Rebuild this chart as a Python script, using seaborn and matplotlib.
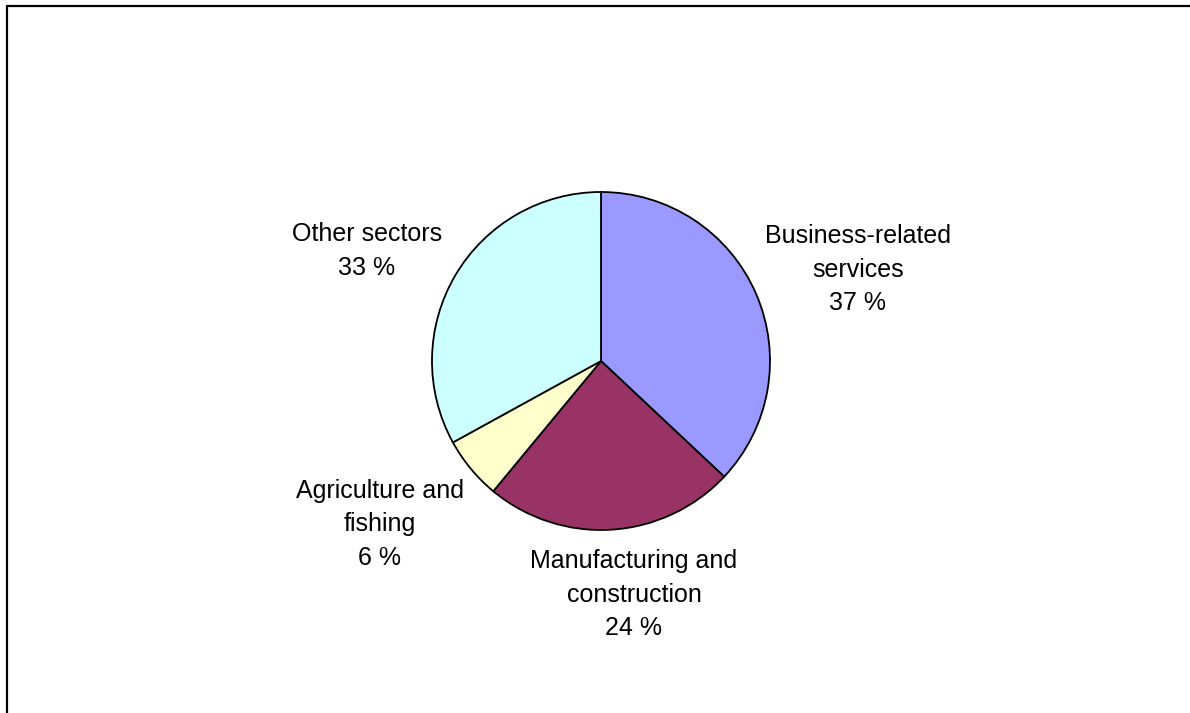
import matplotlib
matplotlib.use("Agg")
import matplotlib.pyplot as plt
from matplotlib.lines import Line2D
import seaborn as sns

# Share of enterprises by sector (%)
sectors = ["Business-related\nservices", "Manufacturing and\nconstruction",
           "Agriculture and\nfishing", "Other sectors"]
shares = [37, 24, 6, 33]
colors = ["#9999FF", "#993366", "#FFFFCC", "#CCFFFF"]

# Label anchor points (pixels from the figure's top-left), one per sector
label_xy = [(858, 224), (634, 549), (380, 479), (367, 222)]

sns.set_theme(style="white")
plt.rcParams["font.family"] = ["Liberation Sans", "DejaVu Sans"]

W, H, DPI = 1190, 713, 100
fig = plt.figure(figsize=(W / DPI, H / DPI), dpi=DPI)
fig.patch.set_facecolor("white")
ax = fig.add_axes([0, 0, 1, 1])

# Pie geometry in pixels
cx, cy, r = 601, 361, 169

ax.pie(shares, colors=colors, startangle=90, counterclock=False,
       radius=1, center=(0, 0), frame=True,
       wedgeprops=dict(edgecolor="black", linewidth=1.3))
ax.set_xlim(-cx / r, (W - cx) / r)
ax.set_ylim(-(H - cy) / r, cy / r)
ax.set_aspect("equal")
ax.set_axis_off()

for name, val, (px, py) in zip(sectors, shares, label_xy):
    ax.text((px - cx) / r, (cy - py) / r, f"{name}\n{val} %",
            ha="center", va="top", multialignment="center",
            fontsize=18, color="black", linespacing=1.5)

# Chart-area border (top and left edges)
fig.add_artist(Line2D([7 / W, 1], [1 - 6 / H, 1 - 6 / H],
                      transform=fig.transFigure, color="black", lw=1.6))
fig.add_artist(Line2D([7 / W, 7 / W], [0, 1 - 6 / H],
                      transform=fig.transFigure, color="black", lw=1.6))

fig.savefig("out.png", dpi=DPI, facecolor="white")
